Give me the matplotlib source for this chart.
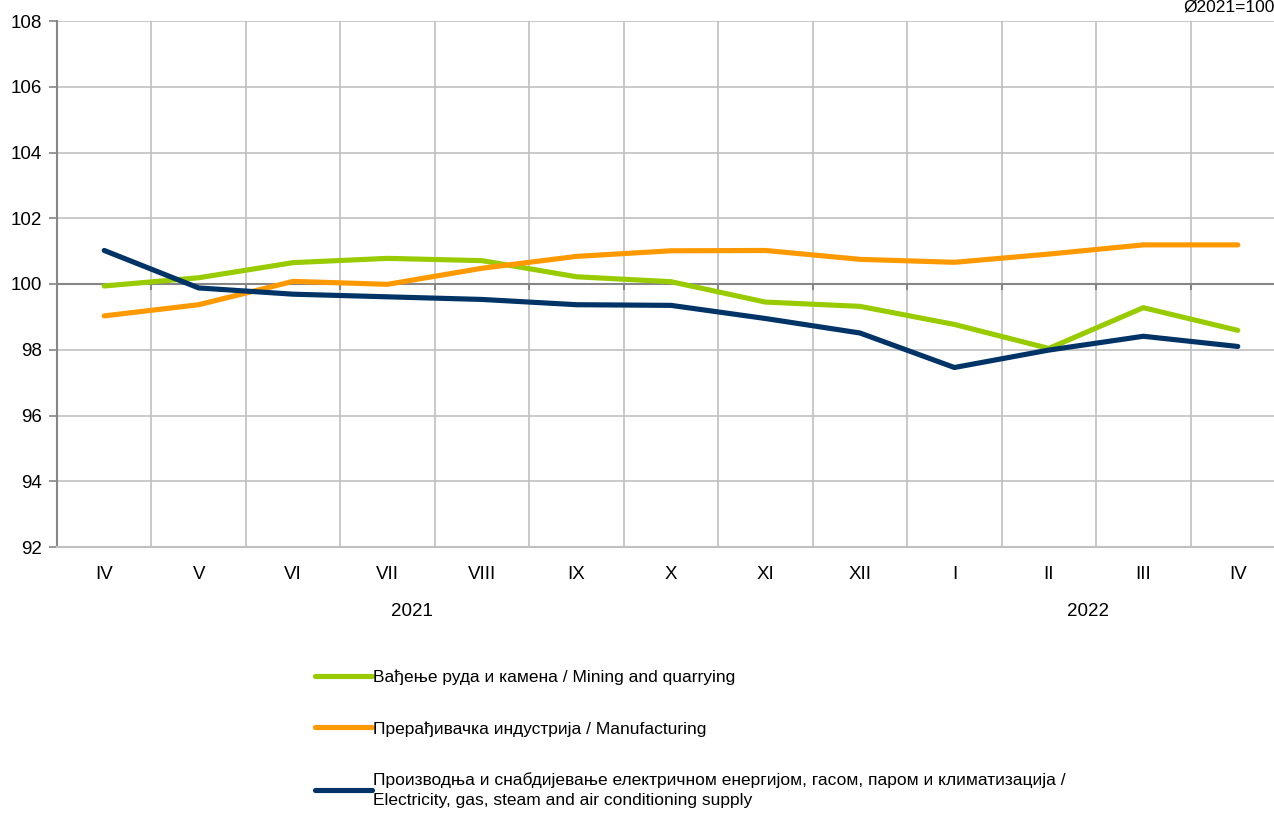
import matplotlib
matplotlib.use("Agg")
from matplotlib import pyplot as plt
from matplotlib import font_manager

months = ["IV", "V", "VI", "VII", "VIII", "IX", "X", "XI", "XII", "I", "II", "III", "IV"]
mining = [99.94, 100.19, 100.65, 100.78, 100.71, 100.22, 100.07, 99.45, 99.32, 98.77, 98.04, 99.28, 98.59]
manufacturing = [99.03, 99.37, 100.08, 99.99, 100.48, 100.84, 101.01, 101.02, 100.75, 100.66, 100.91, 101.19, 101.19]
electricity = [101.02, 99.88, 99.69, 99.61, 99.53, 99.37, 99.35, 98.95, 98.51, 97.46, 97.99, 98.41, 98.10]
years = ["2021", "2022"]
year_pos = [3.26, 10.41]

labels = [
    "Вађење руда и камена / Mining and quarrying",
    "Прерађивачка индустрија / Manufacturing",
    "Производња и снабдијевање електричном енергијом, гасом, паром и климатизација /\nElectricity, gas, steam and air conditioning supply",
]
colors = ["#99cc00", "#ff9900", "#003366"]

names = {f.name for f in font_manager.fontManager.ttflist}
fam = ["Liberation Sans Narrow", "Liberation Sans", "DejaVu Sans"]
plt.rcParams["font.family"] = [f for f in fam if f in names] + ["DejaVu Sans"]

fig = plt.figure(figsize=(12.74, 8.14), dpi=100)
ax = fig.add_axes([57 / 1274, 1 - 547 / 814, 1228 / 1274, 526 / 814])

x = list(range(len(months)))
series = [mining, manufacturing, electricity]
for s, c, lab in zip(series, colors, labels):
    ax.plot(x, s, color=c, lw=3.7, solid_capstyle="round", solid_joinstyle="round", label=lab, zorder=3)

ax.set_xlim(-0.5, len(months) - 0.5)
ax.set_ylim(92, 108)
ax.set_yticks(range(92, 109, 2))
ax.set_xticks(x)
ax.set_xticklabels(months)
ax.tick_params(axis="x", length=0, pad=14, labelsize=13.5)
ax.tick_params(axis="y", length=6, color="#868686", width=1.2, pad=5, labelsize=13.5)

bounds = [i + 0.5 for i in range(len(months) - 1)]
for b in bounds:
    ax.axvline(b, color="#c0c0c0", lw=1.2, zorder=1)
for yv in range(94, 109, 2):
    if yv != 100:
        ax.axhline(yv, color="#c0c0c0", lw=1.2, zorder=1)
ax.axhline(100, color="#868686", lw=1.5, zorder=2)
ax.vlines(bounds, 99.82, 100, color="#868686", lw=1.5, zorder=2)

for sp in ["top", "right"]:
    ax.spines[sp].set_visible(False)
ax.spines["left"].set_color("#868686")
ax.spines["left"].set_linewidth(1.5)
ax.spines["bottom"].set_color("#c0c0c0")
ax.spines["bottom"].set_linewidth(1.5)

for yr, p in zip(years, year_pos):
    ax.text(p, 92 - 1.95, yr, ha="center", va="center", fontsize=13.5)

fig.text(1183 / 1274, 1 - 7 / 814, "Ø2021=100", fontsize=12.5, va="center", ha="left")

handles, labs = ax.get_legend_handles_labels()
leg = fig.legend(handles, labs, loc="upper left", bbox_to_anchor=(308 / 1274, 1 - 663 / 814),
                 frameon=False, fontsize=12.5, handlelength=3.3, handletextpad=0.05,
                 labelspacing=2.05, borderaxespad=0)
for line in leg.get_lines():
    line.set_linewidth(3.7)
for t in leg.get_texts():
    t.set_linespacing(1.45)

fig.savefig("out.png", dpi=100)
